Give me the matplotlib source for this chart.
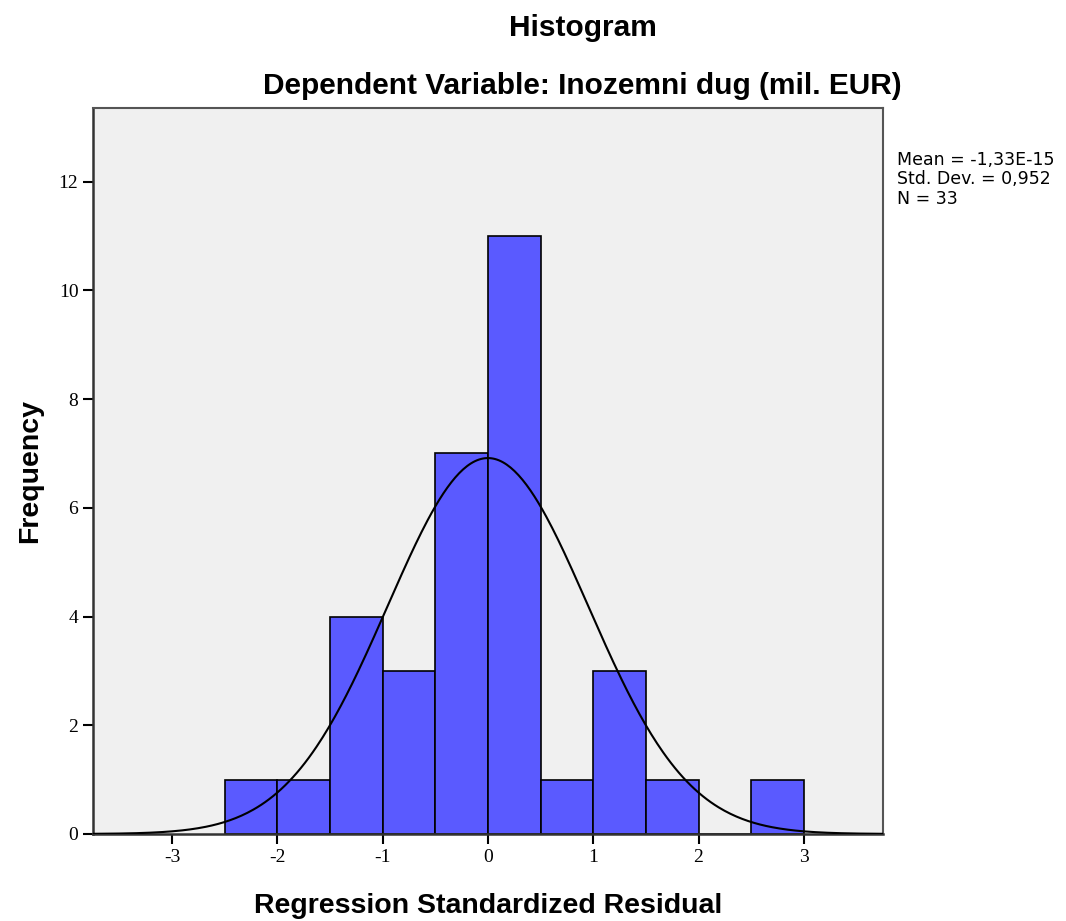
import numpy as np
import matplotlib
matplotlib.use("Agg")
import matplotlib.pyplot as plt

# histogram of regression standardized residuals (bin width 0.5)
bin_edges = [-2.5, -2.0, -1.5, -1.0, -0.5, 0.0, 0.5, 1.0, 1.5, 2.0, 2.5, 3.0]
counts = [1, 1, 4, 3, 7, 11, 1, 3, 1, 0, 1]
mean = -1.33e-15
std_dev = 0.952
n_obs = 33
x_ticks = [-3, -2, -1, 0, 1, 2, 3]
y_ticks = [0, 2, 4, 6, 8, 10, 12]

plt.rcParams['axes.unicode_minus'] = False

fig = plt.figure(figsize=(10.66, 9.21), dpi=100)
ax = fig.add_axes([0.0872, 0.0945, 0.741, 0.788])
ax.set_facecolor("#f0f0f0")

lefts = np.array(bin_edges[:-1])
widths = np.diff(bin_edges)
ax.bar(lefts, counts, width=widths, align="edge", color="#5a5aff",
       edgecolor="black", linewidth=1.2, zorder=2)

# normal curve scaled to counts
bw = widths[0]
xs = np.linspace(-3.75, 3.75, 400)
ys = n_obs * bw / (std_dev * np.sqrt(2 * np.pi)) * np.exp(-0.5 * ((xs - mean) / std_dev) ** 2)
ax.plot(xs, ys, color="black", linewidth=1.5, zorder=3)

ax.set_xlim(-3.75, 3.75)
ax.set_ylim(0, 13.35)
ax.set_xticks(x_ticks)
ax.set_yticks(y_ticks)
ax.tick_params(direction="out", length=7, width=1.5, labelsize=14)
for lab in ax.get_xticklabels() + ax.get_yticklabels():
    lab.set_fontfamily("Liberation Serif")
for s in ["left", "bottom"]:
    ax.spines[s].set_linewidth(1.8)
    ax.spines[s].set_color("#333333")
for s in ["top", "right"]:
    ax.spines[s].set_linewidth(1.5)
    ax.spines[s].set_color("#555555")

ax.set_xlabel("Regression Standardized Residual", fontsize=20.5, fontweight="bold",
              fontfamily="Liberation Sans", labelpad=20)
ax.set_ylabel("Frequency", fontsize=20.5, fontweight="bold",
              fontfamily="Liberation Sans", labelpad=11)

fig.text(0.547, 0.97, "Histogram", ha="center", va="center", fontsize=21.5,
         fontweight="bold", fontfamily="Liberation Sans")
fig.text(0.546, 0.907, "Dependent Variable: Inozemni dug (mil. EUR)", ha="center",
         va="center", fontsize=21.5, fontweight="bold", fontfamily="Liberation Sans")

fig.text(0.841, 0.836, "Mean = -1,33E-15\nStd. Dev. = 0,952\nN = 33", ha="left",
         va="top", fontsize=12.5, fontfamily="DejaVu Sans", linespacing=1.1)

fig.savefig("out.png", dpi=100)
